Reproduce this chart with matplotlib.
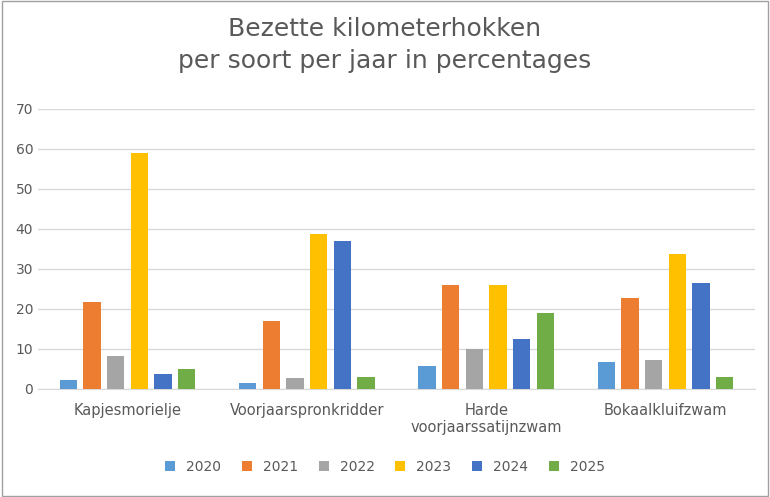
import matplotlib
matplotlib.use("Agg")
import matplotlib.pyplot as plt
import numpy as np

categories = ["Kapjesmorielje", "Voorjaarspronkridder", "Harde\nvoorjaarssatijnzwam", "Bokaalkluifzwam"]
years = ["2020", "2021", "2022", "2023", "2024", "2025"]
v2020 = [2.2, 1.4, 5.7, 6.7]
v2021 = [21.8, 17.0, 26.0, 22.8]
v2022 = [8.2, 2.7, 10.1, 7.3]
v2023 = [59.0, 38.7, 26.0, 33.8]
v2024 = [3.7, 37.0, 12.6, 26.4]
v2025 = [5.0, 3.0, 19.0, 3.0]
series = [v2020, v2021, v2022, v2023, v2024, v2025]
colors = ["#5B9BD5", "#ED7D31", "#A5A5A5", "#FFC000", "#4472C4", "#70AD47"]

fig = plt.figure(figsize=(7.70, 4.97), dpi=100)
ax = fig.add_axes([38/770, 1-389/497, 717/770, 280/497])
x = np.arange(len(categories))
w = 0.097
gap = 0.132
for i, (s, c, y) in enumerate(zip(series, colors, years)):
    ax.bar(x + (i - 2.5) * gap, s, w, color=c, label=y, zorder=3)
ax.set_ylim(0, 70)
ax.set_xlim(-0.5, 3.5)
ax.set_yticks(range(0, 71, 10))
ax.yaxis.grid(True, color="#D9D9D9", lw=1, zorder=0)
for sp in ["top", "right", "left"]:
    ax.spines[sp].set_visible(False)
ax.spines["bottom"].set_color("#D9D9D9")
ax.tick_params(axis="both", length=0, colors="#595959", labelsize=10)
ax.tick_params(axis="x", pad=10)
ax.set_xticks(x)
ax.set_xticklabels(categories, fontsize=10.5)
fig.text(0.5, 0.91, "Bezette kilometerhokken\nper soort per jaar in percentages", ha="center", va="center",
         fontsize=18, color="#595959", linespacing=1.4)
fig.legend(loc="center", bbox_to_anchor=(0.5, 1-467/497), ncol=6, frameon=False, fontsize=10,
           handlelength=0.7, handleheight=0.7, columnspacing=1.5, labelcolor="#595959")
fig.patches.append(plt.Rectangle((0.002, 0.003), 0.996, 0.994, transform=fig.transFigure,
                                 fill=False, edgecolor="#A0A0A0", lw=1))
fig.savefig("out.png", dpi=100)
